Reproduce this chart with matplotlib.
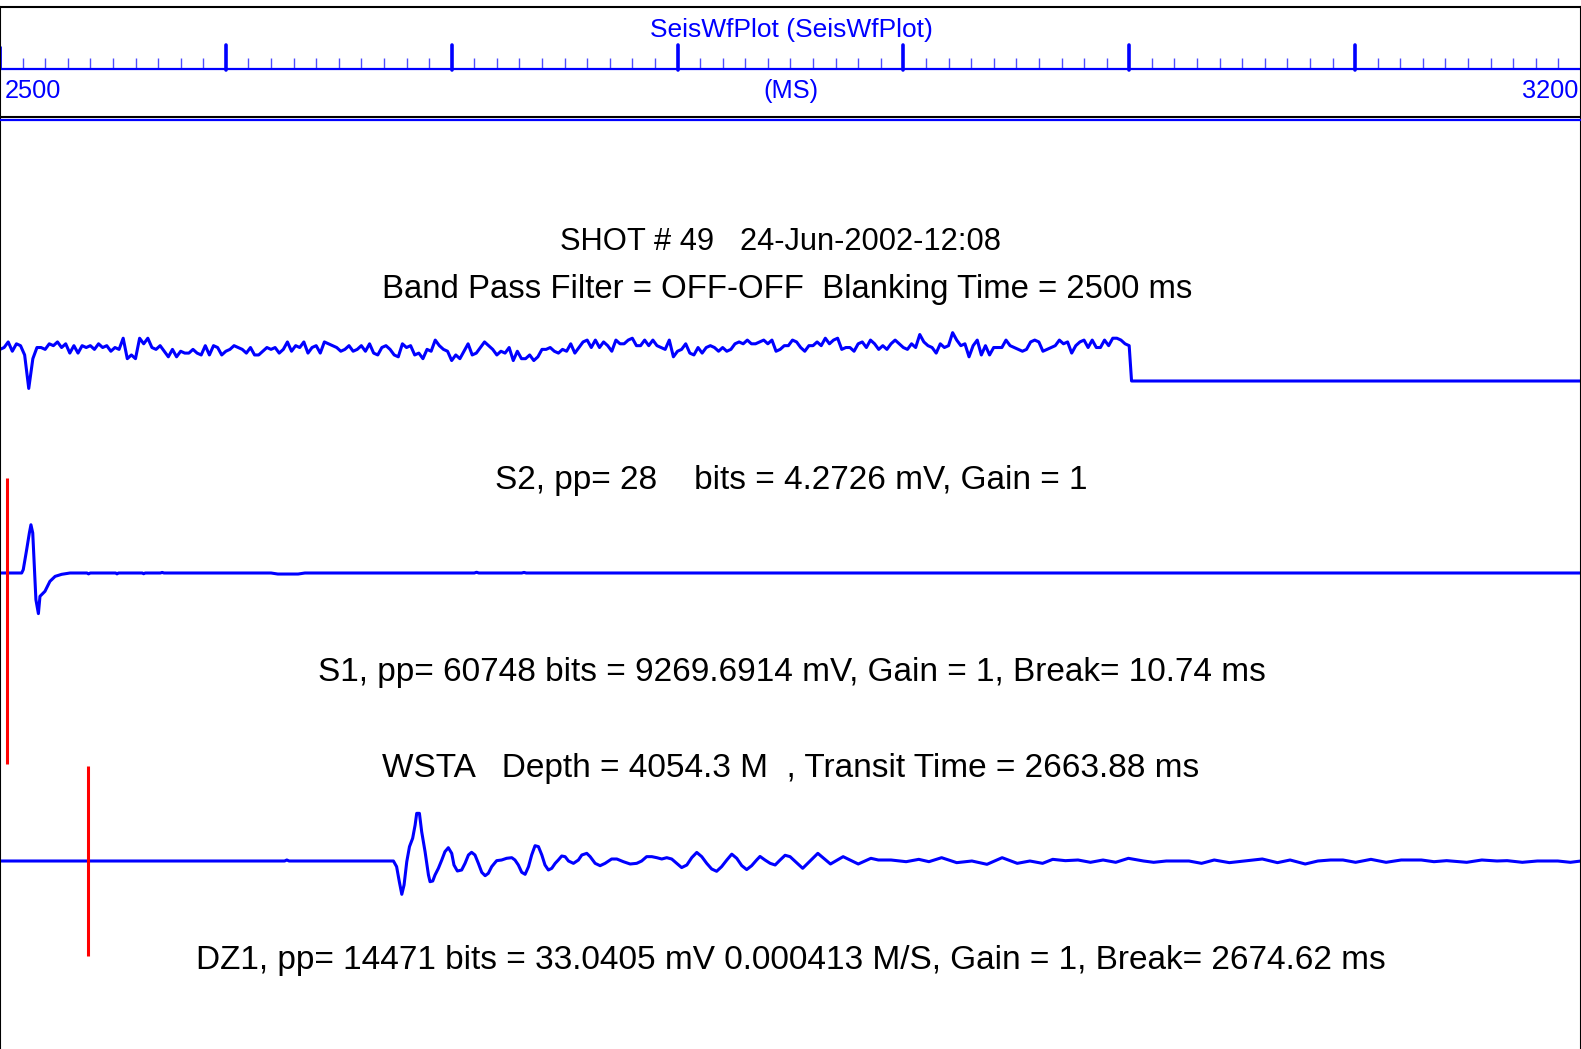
import numpy as np
import matplotlib.pyplot as plt

# figure size in pixels (drawn at dpi 100)
W, H = 1581, 1049

# ---- data ----
t_start, t_end = 2500, 3200
major_ms = np.arange(2600, 3101, 100)
minor_ms = [t for t in range(2510, 3200, 10) if t % 100 != 0]

# S2: noise trace in bits, sampled every s2_dt ms from 2500, blank (0) after s2_blank_ms
s2_dt = 1.818
s2_bits = [17, 18, 21, 16, 20, 19, 14, -4, 12, 18,
           18, 17, 20, 19, 21, 18, 20, 15, 19, 15,
           19, 18, 19, 17, 20, 18, 19, 16, 18, 17,
           23, 12, 14, 12, 23, 20, 23, 18, 17, 19,
           16, 13, 17, 13, 16, 15, 15, 17, 15, 14,
           19, 14, 19, 18, 14, 16, 17, 19, 18, 17,
           15, 18, 14, 14, 16, 18, 17, 18, 15, 17,
           21, 16, 19, 18, 21, 15, 18, 19, 15, 21,
           20, 19, 18, 16, 17, 19, 16, 17, 19, 16,
           20, 15,
           14, 18, 19, 17, 14, 13, 20, 18, 19, 14, 15, 12,
           17, 16, 22, 19, 17, 16, 11, 14, 12, 16, 20, 14,
           15, 18, 21, 19, 17, 14, 16, 15, 18, 11, 16, 12,
           12, 14, 11, 13, 17, 17, 18, 16, 15, 17, 16, 20,
           15, 18, 21, 22, 18, 22, 18, 21, 19, 16, 22, 20,
           20, 22, 23, 19, 19, 22, 19, 22, 19, 18, 17, 22,
           13, 16, 17, 20, 15, 14, 18, 15, 18, 19, 18, 16,
           18, 16, 17, 20, 21, 20, 22, 20,
           20, 21, 22, 20, 22, 16, 17, 19, 19, 22, 21, 18,
           16, 19, 19, 21, 19, 23, 20, 22, 23, 17, 18, 18,
           16, 20, 21, 18, 22, 20, 17, 19, 17, 20, 22, 20,
           18, 17, 20, 18, 25, 21, 19, 18, 15, 20, 18, 19,
           26, 22, 19, 20, 13, 19, 22, 14, 19, 14, 18, 18,
           18, 22, 19, 18, 17, 16, 17, 21, 22, 21, 16, 17,
           18, 19, 22, 20, 21, 15, 19, 21, 22, 18, 22, 18,
           18, 22, 19, 23, 23, 22, 20, 19]
s2_blank_ms = 3001

# S1: source signature (bits)
s1_ms = [2500, 2509.6, 2510.3, 2511.8, 2513.0, 2513.7, 2514.5, 2515.2, 2515.9,
         2517.0, 2517.7, 2519.9, 2522.1, 2524.4, 2527.3, 2531.0, 2538.5, 2539.2,
         2540.0, 2551.2, 2551.8, 2552.5, 2563.0, 2563.6, 2564.3, 2571.0, 2571.8,
         2572.6, 2620.0, 2623.0, 2632.0, 2635.0, 2710.0, 2711.0, 2712.0, 2731.0,
         2732.0, 2733.0, 3200]
s1_bits = [0, 0, 2300, 15900, 27300, 32900, 27300, 4500, -18200,
           -27700, -15900, -12500, -5700, -2300, -900, 0, 0, -600,
           0, 0, -600, 0, 0, -500, 0, 0, 400,
           0, 0, -700, -700, 0, 0, 500, 0, 0,
           400, 0, 0]

# DZ1: downhole geophone (bits)
dz1_ms = [2500, 2626.0, 2627.0, 2628.0, 2668.3, 2674.2, 2675.6, 2676.8, 2677.9,
          2678.9, 2680.1, 2681.3, 2682.7, 2683.8, 2684.5, 2685.7, 2686.7, 2688.2,
          2689.7, 2690.4, 2691.6, 2692.6, 2694.1, 2695.6, 2697.0, 2698.5, 2700.0,
          2701.0, 2702.5, 2704.4, 2705.9, 2707.4, 2708.8, 2710.3, 2711.8, 2713.3,
          2714.8, 2716.2, 2717.7, 2719.9, 2722.1, 2724.3, 2726.6, 2728.0, 2729.5,
          2731.0, 2732.5, 2734.0, 2735.4, 2736.9, 2738.4, 2739.9, 2741.3, 2742.8,
          2744.3, 2745.8, 2747.2, 2748.7, 2750.2, 2751.7, 2753.9, 2756.1, 2757.6,
          2759.8, 2761.3, 2763.5, 2765.7, 2767.9, 2770.8, 2773.1, 2776.0, 2779.0,
          2781.9, 2784.1, 2786.3, 2788.6, 2790.8, 2793.0, 2795.2, 2797.4, 2799.6,
          2801.8, 2804.1, 2806.3, 2808.5, 2810.7, 2812.9, 2815.1, 2817.3, 2819.5,
          2821.8, 2824.0, 2826.2, 2828.4, 2830.6, 2832.8, 2835.0, 2836.5, 2838.7,
          2841.0, 2843.2, 2845.4, 2847.6, 2849.8, 2855.4, 2862.1, 2867.7, 2873.3,
          2880.0, 2885.6, 2888.9, 2894.5, 2901.2, 2906.8, 2911.3, 2916.9, 2923.6,
          2930.3, 2937.0, 2943.7, 2950.4, 2956.0, 2961.6, 2966.1, 2971.7, 2977.3,
          2982.8, 2988.4, 2994.0, 2999.6, 3006.3, 3010.8, 3016.4, 3026.4, 3032.0,
          3037.6, 3044.3, 3051.0, 3058.9, 3065.6, 3071.2, 3077.9, 3083.5, 3089.1,
          3094.6, 3100.2, 3107.0, 3113.7, 3120.4, 3129.3, 3134.9, 3140.5, 3149.4,
          3156.1, 3162.8, 3167.3, 3174.0, 3180.7, 3189.7, 3195.3, 3200]
dz1_bits = [0, 0, 175, 0, 0, 0, -990, -3620, -5830,
            -4200, -120, 2510, 3970, 6300, 8340, 8340, 5130, 1630,
            -2450, -3620, -3500, -2450, -1280, 175, 1630, 2330, 1340,
            -700, -1750, -1575, -410, 1050, 1520, 1050, -410, -1980,
            -2570, -2160, -990, 60, 175, 470, 580, 175, -700,
            -1980, -2330, -990, 1050, 2680, 2510, 1050, -700, -1575,
            -1280, -410, 175, 875, 760, 0, -410, 175, 1050,
            1340, 760, -410, -820, -410, 350, 350, -120, -525,
            -410, 0, 760, 760, 580, 350, 580, 350, -410,
            -1150, -700, 600, 1500, 760, -410, -1400, -1800, -990,
            175, 1200, 470, -800, -1500, -820, 175, 800, 175,
            -410, -700, 175, 1000, 760, -1280, 1340, -525, 760,
            -525, 470, 175, 175, -120, 290, -120, 580, -290,
            0, -580, 580, -410, 0, -410, 290, 60, 175,
            -230, 175, -230, 470, 0, -230, 0, 0, -410,
            175, -290, 0, 350, -290, 175, -525, 0, 175,
            175, -230, 290, -230, 175, 175, -120, 60, -230,
            175, 0, 60, -230, 0, 0, -230, 0]

# break markers (ms)
s1_marker_ms = 2503
dz1_marker_ms = 2539

header_lines = ["SHOT # 49   24-Jun-2002-12:08",
                "Band Pass Filter = OFF-OFF  Blanking Time = 2500 ms"]
s2_label = "S2, pp= 28    bits = 4.2726 mV, Gain = 1"
s1_label = "S1, pp= 60748 bits = 9269.6914 mV, Gain = 1, Break= 10.74 ms"
wsta_label = "WSTA   Depth = 4054.3 M  , Transit Time = 2663.88 ms"
dz1_label = "DZ1, pp= 14471 bits = 33.0405 mV 0.000413 M/S, Gain = 1, Break= 2674.62 ms"

BLUE = '#0000ff'
RED = '#ff0000'

plt.rcParams['font.family'] = ['Liberation Sans', 'DejaVu Sans']

def fx(px):
	return px / W

def fy(py):
	return 1 - py / H

fig = plt.figure(figsize=(W / 100, H / 100), dpi=100)

#Top ruler with the time scale
ax_r = fig.add_axes([0, fy(117), 1, (117 - 7) / H])
ax_r.set_xlim(t_start, t_end)
ax_r.set_ylim(117, 7)
ax_r.set_xticks([])
ax_r.set_yticks([])
for sp in ax_r.spines.values():
	sp.set_color('black')
	sp.set_linewidth(1.5)
ax_r.hlines(69, t_start, t_end, color=BLUE, lw=1.6)
ax_r.vlines(minor_ms, 58, 69, color=BLUE, lw=1.0, alpha=0.7)
ax_r.vlines(major_ms, 45, 70, color=BLUE, lw=2.6, capstyle='round')
ax_r.vlines([t_start, t_end], 46, 69, color=BLUE, lw=2.0)
fig.text(fx(791), fy(30), "SeisWfPlot (SeisWfPlot)", ha='center', va='center', color=BLUE, fontsize=19)
fig.text(fx(5), fy(91), str(t_start), ha='left', va='center', color=BLUE, fontsize=18.3)
fig.text(fx(1578), fy(91), str(t_end), ha='right', va='center', color=BLUE, fontsize=18.3)
fig.text(fx(791), fy(91), "(MS)", ha='center', va='center', color=BLUE, fontsize=18.3)

#Main waveform panel, y in pixel rows
ax = fig.add_axes([0, 0, 1, fy(119.5)])
ax.set_xlim(t_start, t_end)
ax.set_ylim(H, 119.5)
ax.set_xticks([])
ax.set_yticks([])
ax.spines['top'].set_color(BLUE)
ax.spines['top'].set_linewidth(1.6)
ax.spines['bottom'].set_visible(False)
ax.spines['left'].set_color('black')
ax.spines['right'].set_color('black')
ax.spines['left'].set_linewidth(1.5)
ax.spines['right'].set_linewidth(1.5)

# S2 trace
s2_t = t_start + s2_dt * np.arange(len(s2_bits))
s2_t = np.concatenate([s2_t, [s2_blank_ms, t_end]])
s2_v = np.concatenate([s2_bits, [0, 0]])
ax.plot(s2_t, 381 - np.array(s2_v) * 1.86, color=BLUE, lw=2.2)

# S1 trace
ax.plot(s1_ms, 573 - np.array(s1_bits) / 682.0, color=BLUE, lw=2.2)

# DZ1 trace
ax.plot(dz1_ms, 861 - np.array(dz1_bits) / 175.0, color=BLUE, lw=2.2)

# break markers
ax.vlines(s1_marker_ms, 478, 764, color=RED, lw=2.2)
ax.vlines(dz1_marker_ms, 766, 956, color=RED, lw=2.2)

#Labels
fs = 24
fig.text(fx(780), fy(242), header_lines[0], ha='center', va='center', fontsize=22.2)
fig.text(fx(787), fy(289), header_lines[1], ha='center', va='center', fontsize=23.7)
fig.text(fx(791), fy(481), s2_label, ha='center', va='center', fontsize=fs)
fig.text(fx(792), fy(673), s1_label, ha='center', va='center', fontsize=fs)
fig.text(fx(791), fy(769), wsta_label, ha='center', va='center', fontsize=fs)
fig.text(fx(791), fy(960), dz1_label, ha='center', va='center', fontsize=fs)

plt.savefig("out.png", dpi=100)
